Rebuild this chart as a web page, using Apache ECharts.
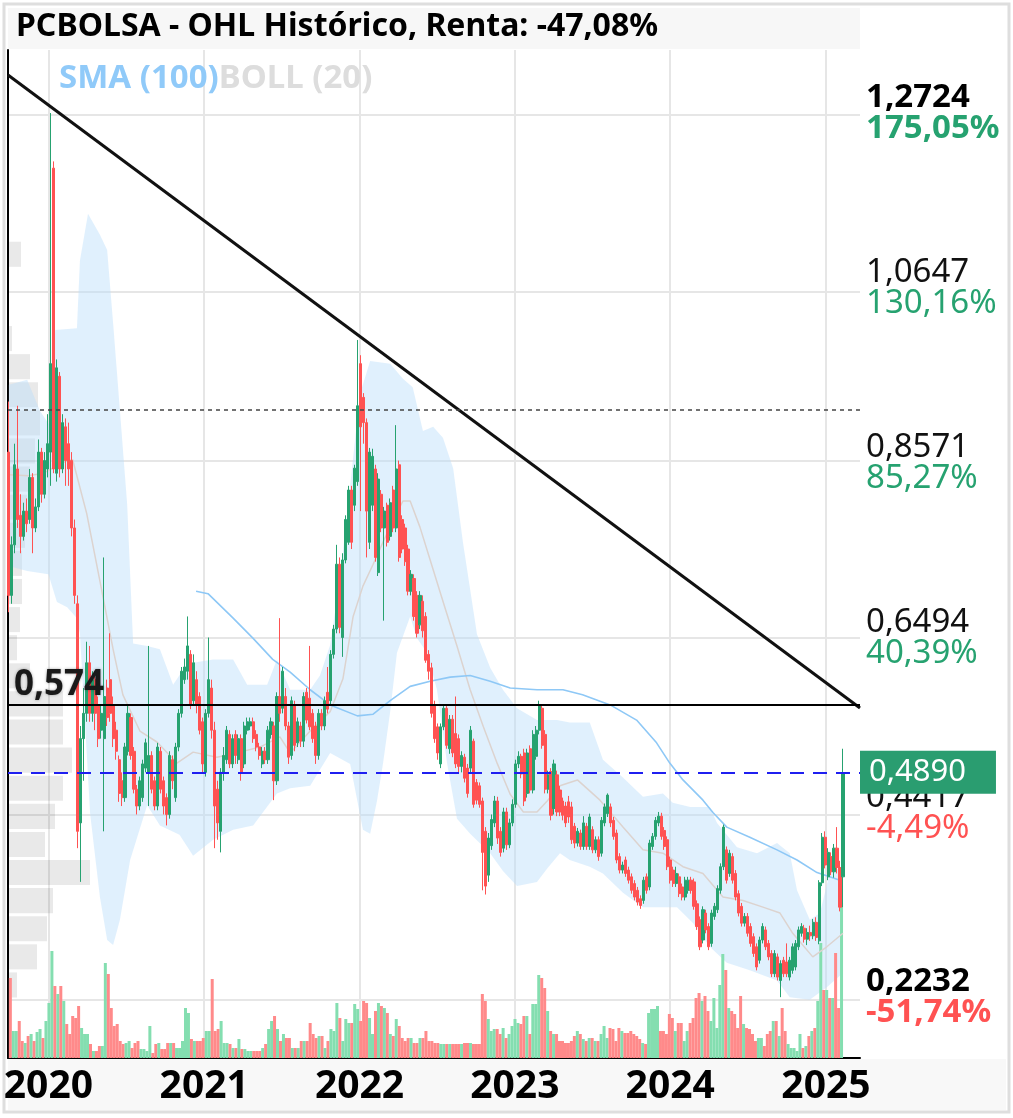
<!DOCTYPE html>
<html>
<head>
<meta charset="utf-8">
<title>PCBOLSA - OHL Histórico</title>
<script src="https://cdn.jsdelivr.net/npm/echarts@6.0.0/dist/echarts.min.js"></script>
<style>
html,body{margin:0;padding:0;background:#ffffff;}
#chart{width:1013px;height:1118px;}
</style>
</head>
<body>
<div id="chart"></div>
<script>
// ================= DATA =================
const titleText = 'PCBOLSA - OHL Histórico, Renta: -47,08%';
const firstWeek = '2019-09-30';
const axisStart = '2019-09-28';
const axisEnd = '2025-03-22';
const yearTicks = ['2020-01-01','2021-01-01','2022-01-01','2023-01-01','2024-01-01','2025-01-01'];
const yearLabels = ['2020','2021','2022','2023','2024','2025'];
const priceTicks = [1.2724, 1.0647, 0.8571, 0.6494, 0.4417, 0.2232];
const priceTickLabels = ['1,2724','1,0647','0,8571','0,6494','0,4417','0,2232'];
const pctTickLabels = ['175,05%','130,16%','85,27%','40,39%','-4,49%','-51,74%'];
const supportLevel = 0.574;
const supportLabel = '0,574';
const dottedLevel = 0.9235;
const lastPrice = 0.4890;
const lastPriceLabel = '0,4890';
const trendLine = [['2019-09-28', 1.3175], ['2025-03-22', 0.5663]];

// weekly candles [open, close, low, high]
const candles2019 = [
[.870,.700,.680,.930],[.700,.760,.690,.770],[.760,.855,.750,.880],[.850,.790,.780,.925],
[.795,.770,.750,.820],[.770,.800,.765,.810],[.800,.785,.775,.815],[.790,.840,.785,.850],
[.840,.780,.750,.845],[.780,.805,.775,.815],[.805,.870,.800,.885],[.870,.820,.810,.875],
[.820,.860,.815,.870],[.850,.880,.840,.915]];
const candles2020 = [
[.870,.975,.830,1.2724],[1.207,.850,.845,1.215],[.845,.970,.835,.980],[.960,.850,.840,.965],
[.850,.905,.845,.915],[.900,.860,.830,.910],[.880,.850,.830,.905],[.860,.780,.770,.870],
[.780,.700,.690,.790],[.690,.420,.400,.700],[.430,.530,.360,.545],[.530,.560,.480,.590],
[.560,.620,.550,.645],[.620,.560,.550,.640],[.560,.600,.550,.610],[.600,.560,.540,.610],
[.570,.530,.520,.580],[.540,.560,.530,.570],[.530,.580,.420,.745],[.590,.555,.545,.600],
[.600,.560,.550,.655],[.570,.530,.520,.580],[.540,.515,.505,.550],[.505,.465,.455,.510],
[.480,.460,.450,.490],[.460,.520,.455,.525],[.515,.560,.510,.570],[.555,.510,.505,.560],
[.515,.470,.465,.520],[.470,.450,.440,.475],[.450,.480,.445,.485],[.460,.500,.455,.505],
[.495,.525,.490,.530],[.490,.510,.450,.640],[.510,.470,.465,.515],[.480,.450,.445,.485],
[.450,.520,.445,.525],[.515,.470,.465,.520],[.480,.450,.440,.485],[.460,.440,.427,.465],
[.440,.510,.435,.515],[.505,.480,.470,.510],[.460,.520,.455,.525],[.520,.560,.515,.565],
[.560,.610,.555,.615],[.600,.615,.595,.625],[.610,.640,.600,.675],[.630,.570,.565,.635],
[.575,.620,.570,.630],[.600,.570,.560,.610],[.580,.540,.535,.585],[.550,.500,.490,.555]];
const candles2021 = [
[.490,.560,.485,.565],[.560,.600,.555,.650],[.590,.540,.530,.600],[.540,.450,.400,.550],
[.470,.430,.410,.480],[.420,.490,.395,.495],[.490,.510,.480,.520],[.505,.540,.500,.545],
[.535,.500,.495,.540],[.500,.530,.495,.535],[.535,.510,.500,.540],[.505,.530,.500,.535],
[.530,.490,.480,.535],[.500,.545,.495,.550],[.540,.550,.535,.555],[.545,.550,.540,.555],
[.550,.530,.525,.555],[.535,.520,.515,.540],[.520,.510,.505,.525],[.500,.515,.495,.520],
[.515,.505,.500,.520],[.505,.540,.500,.545],[.535,.550,.530,.555],[.545,.480,.457,.550],
[.480,.580,.475,.585],[.580,.560,.550,.673],[.566,.610,.560,.615],[.580,.545,.540,.590],
[.545,.508,.500,.550],[.510,.575,.505,.580],[.570,.522,.515,.575],[.525,.550,.520,.555],
[.545,.527,.520,.550],[.527,.580,.520,.585],[.585,.552,.548,.590],[.578,.544,.540,.640],
[.560,.530,.525,.565],[.545,.510,.500,.550],[.510,.560,.505,.565],[.560,.545,.540,.565],
[.545,.575,.540,.580],[.585,.565,.560,.615],[.575,.630,.570,.635],[.630,.660,.625,.665],
[.660,.737,.655,.760],[.737,.662,.655,.745],[.650,.742,.627,.750],[.742,.790,.738,.795],
[.763,.825,.760,.830],[.825,.763,.755,.830],[.807,.851,.800,.855],[.835,.925,.830,1.003]];
const candles2022 = [
[.975,.900,.800,.985],[.935,.905,.880,.940],[.905,.800,.745,.910],[.763,.870,.755,.875],
[.807,.865,.800,.874],[.850,.745,.740,.855],[.727,.838,.723,.845],[.820,.780,.775,.825],
[.780,.800,.670,.805],[.807,.763,.758,.810],[.770,.810,.765,.815],[.825,.780,.775,.830],
[.780,.850,.775,.902],[.855,.745,.740,.860],[.790,.755,.750,.795],[.780,.740,.735,.785],
[.755,.705,.700,.760],[.705,.725,.700,.730],[.720,.675,.670,.725],[.700,.655,.650,.705],
[.665,.700,.660,.705],[.693,.658,.650,.700],[.675,.623,.620,.680],[.630,.610,.600,.635],
[.614,.560,.555,.620],[.570,.530,.525,.575],[.544,.513,.505,.548],[.500,.544,.495,.548],
[.544,.566,.540,.570],[.566,.522,.518,.570],[.518,.553,.512,.558],[.553,.513,.508,.558],
[.536,.500,.495,.580],[.530,.497,.490,.535],[.497,.510,.490,.515],[.508,.483,.478,.512],
[.495,.465,.460,.500],[.495,.540,.490,.545],[.527,.452,.448,.530],[.478,.457,.452,.482],
[.474,.452,.448,.478],[.456,.395,.350,.460],[.420,.355,.345,.425],[.368,.412,.360,.418],
[.403,.434,.398,.440],[.430,.456,.425,.462],[.456,.412,.405,.461],[.420,.395,.390,.425],
[.400,.443,.395,.448],[.443,.404,.398,.448],[.404,.430,.400,.435],[.430,.452,.426,.458]];
const candles2023 = [
[.452,.500,.448,.505],[.500,.509,.495,.515],[.509,.488,.483,.512],[.513,.456,.450,.518],
[.465,.513,.460,.518],[.518,.469,.465,.522],[.469,.535,.465,.540],[.509,.540,.505,.545],
[.540,.570,.535,.575],[.566,.522,.518,.570],[.535,.470,.465,.540],[.470,.487,.465,.492],
[.491,.439,.433,.495],[.447,.500,.440,.505],[.487,.443,.438,.492],[.469,.443,.438,.474],
[.456,.439,.433,.460],[.450,.430,.425,.455],[.455,.437,.430,.462],[.449,.410,.405,.455],
[.426,.406,.400,.430],[.406,.420,.402,.424],[.418,.402,.398,.422],[.402,.430,.398,.438],
[.426,.402,.398,.430],[.402,.437,.398,.441],[.422,.398,.394,.426],[.398,.410,.394,.414],
[.410,.390,.385,.414],[.394,.433,.390,.437],[.430,.449,.426,.453],[.441,.463,.437,.465],
[.449,.430,.425,.453],[.433,.414,.410,.437],[.418,.386,.382,.422],[.390,.374,.370,.394],
[.374,.380,.370,.384],[.386,.370,.366,.390],[.374,.362,.358,.378],[.366,.350,.346,.370],
[.358,.342,.338,.362],[.350,.336,.332,.354],[.340,.332,.328,.344],[.338,.362,.334,.366],
[.366,.350,.346,.370],[.354,.406,.350,.410],[.402,.414,.398,.418],[.414,.433,.410,.437],
[.430,.438,.426,.443],[.438,.414,.410,.442],[.421,.402,.398,.425],[.410,.378,.374,.414]];
const candles2024 = [
[.386,.362,.358,.390],[.374,.358,.354,.378],[.358,.370,.354,.378],[.366,.346,.342,.370],
[.354,.342,.338,.358],[.342,.362,.338,.366],[.350,.362,.346,.366],[.362,.350,.346,.366],
[.360,.331,.327,.364],[.334,.307,.303,.338],[.315,.283,.279,.319],[.291,.327,.287,.331],
[.323,.303,.299,.327],[.307,.283,.279,.311],[.287,.323,.283,.327],[.319,.331,.315,.335],
[.327,.352,.323,.356],[.350,.378,.346,.382],[.378,.425,.374,.428],[.398,.362,.358,.402],
[.370,.394,.366,.398],[.390,.362,.358,.394],[.370,.342,.338,.374],[.346,.323,.319,.350],
[.331,.311,.307,.335],[.311,.319,.307,.323],[.319,.299,.295,.323],[.307,.287,.283,.311],
[.295,.275,.271,.299],[.283,.259,.255,.287],[.267,.291,.263,.295],[.291,.307,.287,.311],
[.303,.283,.279,.307],[.287,.271,.267,.291],[.275,.251,.247,.279],[.251,.275,.247,.279],
[.271,.247,.243,.275],[.243,.263,.2232,.267],[.267,.251,.247,.271],[.265,.251,.247,.287],
[.247,.267,.243,.271],[.255,.283,.251,.287],[.259,.287,.255,.291],[.283,.303,.279,.307],
[.299,.307,.295,.311],[.305,.292,.288,.309],[.292,.300,.285,.305],[.300,.296,.290,.308],
[.296,.312,.292,.316],[.312,.294,.290,.318],[.290,.359,.286,.362],[.359,.413,.355,.418]];
const candles2025 = [
[.413,.380,.376,.420],[.366,.395,.362,.400],[.390,.372,.368,.395],[.372,.400,.365,.405],
[.400,.377,.370,.425],[.377,.330,.325,.385],[.366,.489,.330,.518]];

// weekly volume (relative units)
const volume2019 = [80,27,27,37,17,15,22,24,17,26,29,20,37,55];
const volume2020 = [107,72,64,72,57,34,24,42,40,52,30,24,24,14,7,7,12,12,95,84,
50,32,34,17,14,15,17,10,15,17,9,9,7,32,5,14,15,9,9,15,15,15,10,10,17,50,45,19,17,17,17,20];
const volume2021 = [27,27,79,27,29,37,15,15,14,10,10,19,9,9,7,7,7,7,7,10,
14,29,37,42,29,17,24,20,20,10,10,10,17,17,17,35,24,20,22,22,10,17,29,27,55,40,17,39,35,35,54,49];
const volume2022 = [37,57,55,40,24,47,55,52,50,45,24,22,39,32,20,17,20,20,15,15,
20,20,27,17,17,15,15,14,14,14,14,14,14,14,14,15,15,15,14,14,14,64,57,39,27,29,29,24,30,20,24,32];
const volume2023 = [39,35,34,42,42,24,54,54,83,80,70,47,27,24,24,17,17,15,15,17,
22,27,24,19,17,20,20,17,17,24,32,20,30,29,17,30,27,25,25,27,24,22,19,15,14,45,49,49,52,27,27,24];
const volume2024 = [44,40,27,35,35,17,27,35,40,60,65,57,62,47,37,60,30,73,104,88,
50,47,44,30,62,34,30,29,24,17,20,20,12,24,27,37,37,22,50,27,14,10,10,7,24,10,12,22,27,30,57,115];
const volume2025 = [68,68,60,60,105,50,155];

// Bollinger (20) and SMA (100)
const bollUpper = [
['2019-09-30',.950],['2019-11-12',.956],['2019-12-12',.919],['2020-01-05',.901],['2020-01-17',1.015],
['2020-03-08',1.017],['2020-03-15',1.097],['2020-04-03',1.153],['2020-05-01',1.128],['2020-05-18',1.110],
['2020-06-01',1.023],['2020-06-17',.919],['2020-07-04',.808],['2020-07-18',.643],['2020-08-20',.640],
['2020-09-19',.636],['2020-10-20',.594],['2020-11-22',.619],['2021-01-22',.624],['2021-03-10',.624],
['2021-04-12',.594],['2021-05-29',.594],['2021-06-21',.624],['2021-07-22',.588],['2021-09-07',.588],
['2021-09-30',.605],['2021-10-24',.641],['2021-11-16',.719],['2021-12-10',.830],['2022-01-02',.939],
['2022-01-26',.978],['2022-03-14',.975],['2022-04-13',.957],['2022-05-06',.947],['2022-05-30',.895],
['2022-06-23',.900],['2022-07-16',.887],['2022-08-09',.851],['2022-09-01',.763],['2022-10-04',.654],
['2022-11-04',.614],['2022-12-04',.588],['2023-01-06',.566],['2023-02-22',.552],['2023-04-10',.552],
['2023-05-10',.549],['2023-06-26',.549],['2023-07-27',.505],['2023-09-12',.484],['2023-10-29',.461],
['2023-12-15',.465],['2024-01-07',.454],['2024-02-17',.449],['2024-04-03',.449],['2024-04-20',.430],
['2024-06-06',.401],['2024-07-23',.394],['2024-09-08',.406],['2024-10-08',.394],['2024-10-25',.350],
['2024-11-24',.315],['2024-12-18',.323],['2025-01-10',.371],['2025-02-10',.378]];
const bollLower = [
['2019-09-30',.735],['2019-11-12',.729],['2020-01-01',.725],['2020-01-21',.692],['2020-02-14',.686],
['2020-03-08',.673],['2020-03-15',.655],['2020-04-08',.441],['2020-05-01',.342],['2020-05-18',.291],
['2020-06-01',.285],['2020-06-17',.315],['2020-07-11',.386],['2020-08-20',.451],['2020-09-19',.427],
['2020-11-04',.416],['2020-12-06',.391],['2021-01-22',.410],['2021-03-10',.422],['2021-04-26',.427],
['2021-06-21',.465],['2021-07-22',.471],['2021-09-07',.474],['2021-10-24',.513],['2021-12-10',.500],
['2022-01-09',.422],['2022-01-26',.417],['2022-02-11',.456],['2022-02-25',.500],['2022-03-14',.562],
['2022-03-30',.632],['2022-04-30',.675],['2022-05-16',.649],['2022-06-09',.632],['2022-07-02',.588],
['2022-07-26',.500],['2022-08-18',.435],['2022-09-18',.417],['2022-11-04',.394],['2022-12-04',.373],
['2023-01-06',.355],['2023-02-22',.360],['2023-03-18',.376],['2023-04-17',.394],['2023-05-10',.386],
['2023-06-26',.378],['2023-07-27',.370],['2023-09-12',.347],['2023-10-29',.330],['2024-01-17',.330],
['2024-02-24',.311],['2024-04-03',.283],['2024-05-13',.264],['2024-07-06',.255],['2024-09-08',.243],
['2024-10-08',.223],['2024-11-24',.220],['2025-01-03',.235],['2025-02-10',.252]];
const bollMid = [
['2019-09-30',.843],['2019-11-15',.842],['2019-12-20',.845],['2020-02-14',.860],['2020-02-27',.861],
['2020-03-31',.797],['2020-05-01',.717],['2020-06-01',.636],['2020-06-24',.582],['2020-08-03',.539],
['2020-09-12',.526],['2020-10-29',.501],['2020-12-06',.514],['2021-01-31',.508],['2021-03-26',.514],
['2021-05-12',.520],['2021-06-28',.532],['2021-07-22',.513],['2021-09-07',.539],['2021-10-24',.562],
['2021-11-23',.601],['2021-12-17',.675],['2022-01-09',.711],['2022-02-02',.737],['2022-02-25',.763],
['2022-03-21',.789],['2022-04-13',.812],['2022-04-30',.812],['2022-05-23',.781],['2022-06-16',.742],
['2022-07-16',.693],['2022-08-18',.640],['2022-09-18',.588],['2022-10-19',.544],['2022-11-21',.500],
['2022-12-21',.464],['2023-01-21',.443],['2023-02-22',.443],['2023-03-18',.456],['2023-04-17',.474],
['2023-05-28',.481],['2023-07-20',.457],['2023-09-12',.425],['2023-10-29',.398],['2023-12-15',.394],
['2024-01-31',.378],['2024-03-18',.370],['2024-05-04',.342],['2024-06-20',.338],['2024-08-06',.330],
['2024-09-15',.323],['2024-10-15',.299],['2024-12-01',.271],['2025-01-03',.283],['2025-02-10',.299]];
const sma100 = [
['2020-12-13',.705],['2021-01-10',.702],['2021-03-10',.673],['2021-04-26',.649],['2021-06-11',.624],
['2021-07-22',.609],['2021-09-07',.588],['2021-10-24',.570],['2021-12-27',.557],['2022-02-02',.559],
['2022-03-14',.575],['2022-04-30',.592],['2022-06-16',.598],['2022-08-02',.603],['2022-09-18',.605],
['2022-11-04',.598],['2022-12-21',.590],['2023-02-22',.588],['2023-04-24',.588],['2023-06-09',.582],
['2023-08-13',.570],['2023-10-14',.552],['2023-11-30',.525],['2023-12-31',.501],['2024-01-31',.481],
['2024-03-18',.457],['2024-04-11',.442],['2024-05-13',.425],['2024-07-06',.413],['2024-09-08',.398],
['2024-10-25',.386],['2024-12-11',.371],['2025-02-03',.362]];

// volume profile rows [price low, price high, relative volume]
const profileRowLow = [0.221,0.2544,0.2877,0.3211,0.3544,0.3878,0.4211,0.4545,0.4878,0.5212,0.5545,0.5879,0.6212,0.6546,
0.6879,0.7213,0.7546,0.788,0.8213,0.8547,0.888,0.9214,0.9547,0.9881,1.0214,1.0548,1.0881];
const profileRowHigh = [0.2544,0.2877,0.3211,0.3544,0.3878,0.4211,0.4545,0.4878,0.5212,0.5545,0.5879,0.6212,0.6546,0.6879,
0.7213,0.7546,0.788,0.8213,0.8547,0.888,0.9214,0.9547,0.9881,1.0214,1.0548,1.0881,1.1215];
const profileVolume = [9,29,39,45,82,37,47,55,64,55,55,22,9,12,14,14,17,19,22,27,32,30,22,4,0,0,13];

// ================= STYLE / LAYOUT =================
const FONT = 'Noto Sans';
const UP = '#26a270', DOWN = '#ff5252';
const VOL_UP = '#84deb0', VOL_DOWN = '#ff8a8a';
const GRID_COLOR = '#e6e6e6';
const PRICE_MIN = 0.151, PRICE_MAX = 1.3472;

const DAY = 86400000;
const ts = s => Date.parse(s);
const candles = [].concat(candles2019, candles2020, candles2021, candles2022, candles2023, candles2024, candles2025);
const volumes = [].concat(volume2019, volume2020, volume2021, volume2022, volume2023, volume2024, volume2025);
const weekTimes = candles.map((c, i) => ts(firstWeek) + i * 7 * DAY);
const candleData = candles.map((c, i) => [weekTimes[i], c[0], c[1], c[2], c[3]]);
const volumeData = volumes.map((v, i) => ({
  value: [weekTimes[i], v],
  itemStyle: { color: candles[i][1] >= candles[i][0] ? VOL_UP : VOL_DOWN }
}));
const toPts = arr => arr.map(p => [ts(p[0]), p[1]]);
const upperPts = toPts(bollUpper), lowerPts = toPts(bollLower);
const profileData = profileVolume.map((v, i) => [profileRowLow[i], profileRowHigh[i], v]);
const yearTimes = yearTicks.map(ts);

const chart = echarts.init(document.getElementById('chart'), null, { renderer: 'canvas' });

const priceLabelRich = {};
[['p', '#111', 'normal'], ['pb', '#000', 'bold'], ['g', UP, 'normal'], ['gb', UP, 'bold'],
 ['r', DOWN, 'normal'], ['rb', DOWN, 'bold']].forEach(s => {
  priceLabelRich[s[0]] = { color: s[1], fontWeight: s[2], fontSize: 33, lineHeight: 31, fontFamily: FONT };
});

const gridLineData = priceTicks.map(v => ({ yAxis: v })).concat(yearTimes.map((t, i) => ({
  xAxis: t,
  label: { show: true, position: 'start', distance: 9, formatter: yearLabels[i],
    fontSize: 39, fontWeight: 'bold', color: '#000', fontFamily: FONT }
})));

const option = {
  animation: false,
  backgroundColor: '#ffffff',
  textStyle: { fontFamily: FONT },
  graphic: [
    { type: 'rect', z: -10, shape: { x: 4, y: 4, width: 1005, height: 1108 }, style: { fill: '#ffffff', stroke: '#dedede', lineWidth: 3 } },
    { type: 'rect', z: -9, shape: { x: 8, y: 8, width: 852, height: 41 }, style: { fill: '#f7f7f7' } },
    { type: 'rect', z: -9, shape: { x: 8, y: 1059, width: 998, height: 51 }, style: { fill: '#f8f8f8' } }
  ],
  title: [
    { text: titleText, left: 11, top: 6, textStyle: { fontSize: 32, fontWeight: 'bold', color: '#000', fontFamily: FONT } },
    { text: '{a|SMA (100)}{b|BOLL (20)}', left: 54, top: 57,
      textStyle: { rich: {
        a: { color: '#90caf9', fontSize: 33, fontWeight: 'bold', fontFamily: FONT },
        b: { color: '#dddddd', fontSize: 33, fontWeight: 'bold', fontFamily: FONT } } } }
  ],
  grid: [
    { left: 8, right: 153, top: 50, bottom: 60 },
    { left: 8, right: 153, top: 898, bottom: 60 }
  ],
  xAxis: [
    { type: 'time', gridIndex: 0, min: ts(axisStart), max: ts(axisEnd),
      axisLine: { show: true, lineStyle: { color: '#000', width: 2 } },
      axisTick: { show: false }, splitLine: { show: false }, axisLabel: { show: false } },
    { type: 'time', gridIndex: 1, min: ts(axisStart), max: ts(axisEnd), show: false },
    { type: 'value', gridIndex: 0, min: 0, max: 852, show: false }
  ],
  yAxis: [
    { type: 'value', gridIndex: 0, position: 'right', min: PRICE_MIN, max: PRICE_MAX,
      axisLine: { show: true, lineStyle: { color: '#000', width: 2 } },
      axisTick: { show: false }, splitLine: { show: false },
      axisLabel: { customValues: priceTicks, margin: 6, rich: priceLabelRich,
        formatter: function (v) {
          const i = priceTicks.findIndex(t => Math.abs(t - v) < 1e-7);
          if (i < 0) return '';
          const bold = (i === 0 || i === priceTicks.length - 1);
          const neg = pctTickLabels[i].charAt(0) === '-';
          const ps = bold ? 'pb' : 'p';
          const cs = (neg ? 'r' : 'g') + (bold ? 'b' : '');
          return '{' + ps + '|' + priceTickLabels[i] + '}\n{' + cs + '|' + pctTickLabels[i] + '}';
        } } },
    { type: 'value', gridIndex: 1, min: 0, max: 160, show: false }
  ],
  series: [
    { // volume profile
      name: 'profile', type: 'custom', xAxisIndex: 2, yAxisIndex: 0, z: 0, silent: true,
      data: profileData, encode: { x: 2, y: [0, 1] },
      renderItem: function (params, api) {
        const a = api.coord([0, api.value(1)]);
        const b = api.coord([api.value(2), api.value(0)]);
        return { type: 'rect', shape: { x: a[0], y: a[1] + 1.5, width: b[0] - a[0], height: b[1] - a[1] - 3 },
          style: { fill: 'rgba(0,0,0,0.085)' } };
      }
    },
    { // bollinger band
      name: 'BOLL band', type: 'custom', xAxisIndex: 0, yAxisIndex: 0, z: 1, silent: true,
      data: [[upperPts[0][0], upperPts[0][1]]], encode: { x: 0, y: 1 },
      renderItem: function (params, api) {
        const pts = upperPts.map(p => api.coord(p)).concat(lowerPts.slice().reverse().map(p => api.coord(p)));
        return { type: 'polygon', shape: { points: pts }, style: { fill: 'rgba(187,222,251,0.45)' } };
      },
      markLine: {
        silent: true, symbol: ['none', 'none'], z: 0, animation: false,
        label: { show: false },
        lineStyle: { color: GRID_COLOR, width: 2, type: 'solid' },
        data: gridLineData
      }
    },
    { // volume
      name: 'Volumen', type: 'bar', xAxisIndex: 1, yAxisIndex: 1, barWidth: 3, z: 2, silent: true,
      data: volumeData
    },
    { name: 'BOLL (20)', type: 'line', xAxisIndex: 0, yAxisIndex: 0, z: 3, silent: true, symbol: 'none',
      data: toPts(bollMid), lineStyle: { color: '#dcd3cf', width: 1.5 } },
    { name: 'SMA (100)', type: 'line', xAxisIndex: 0, yAxisIndex: 0, z: 3, silent: true, symbol: 'none',
      data: toPts(sma100), lineStyle: { color: '#8ec8f6', width: 1.6 } },
    { // candles
      name: 'PCBOLSA', type: 'candlestick', xAxisIndex: 0, yAxisIndex: 0, z: 4, barWidth: 2.6,
      data: candleData, encode: { x: 0, y: [1, 2, 3, 4] },
      itemStyle: { color: UP, color0: DOWN, borderColor: UP, borderColor0: DOWN, borderWidth: 1 },
      markLine: {
        silent: true, symbol: ['none', 'none'], animation: false, z: 5,
        data: [
          [{ coord: [ts(trendLine[0][0]), trendLine[0][1]], lineStyle: { color: '#111', width: 3, type: 'solid' }, label: { show: false } },
           { coord: [ts(trendLine[1][0]), trendLine[1][1]] }],
          { yAxis: dottedLevel, lineStyle: { color: '#444', width: 1.5, type: [4, 4] }, label: { show: false } },
          { yAxis: supportLevel, lineStyle: { color: '#000', width: 2, type: 'solid' },
            label: { show: true, position: 'insideStartTop', formatter: supportLabel, distance: [6, 2],
              fontSize: 35, fontWeight: 'bold', color: '#1a1a1a', fontFamily: FONT,
              textShadowColor: 'rgba(0,0,0,0.35)', textShadowBlur: 3 } },
          { yAxis: lastPrice, lineStyle: { color: '#1f1ff0', width: 2.2, type: [14, 9] },
            label: { show: true, position: 'end', formatter: lastPriceLabel, distance: 0,
              backgroundColor: '#2a9d70', color: '#ffffff', fontSize: 31, lineHeight: 33,
              padding: [5, 30, 5, 9], fontFamily: FONT } }
        ]
      }
    }
  ]
};
chart.setOption(option);
</script>
</body>
</html>
